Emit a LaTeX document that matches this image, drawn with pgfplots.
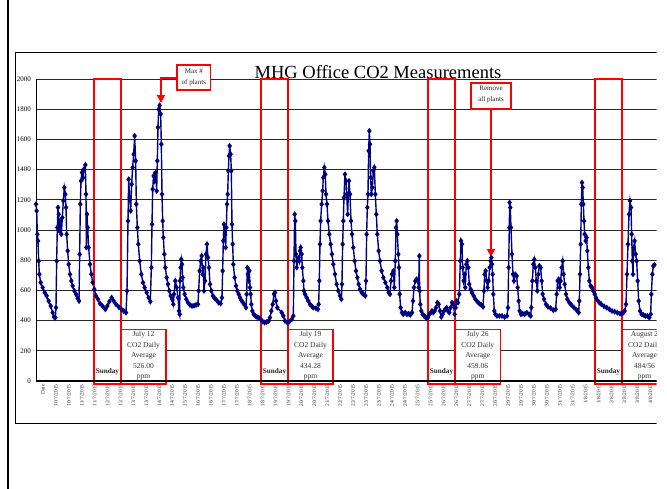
\documentclass[border=0pt]{standalone}
\usepackage{fontspec}
\setmainfont{Liberation Serif}
\usepackage{pgfplots}
\pgfplotsset{compat=1.18}
\usetikzlibrary{arrows.meta}
\definecolor{navy}{HTML}{000080}
\begin{document}
\begin{tikzpicture}[x=1pt,y=1pt]
\useasboundingbox (0,0) rectangle (667,488);
\begin{scope}
\clip (0,0) rectangle (656.5,488);
\draw[line width=2.4pt] (8,-2) -- (8,490);
\draw[line width=1pt] (15,435) rectangle (720,65);
\node[anchor=base, font=\fontsize{18.5}{20}\selectfont] at (378,409.7) {MHG Office CO2 Measurements};
\begin{axis}[
  at={(36pt,107pt)}, anchor=south west,
  scale only axis, width=624pt, height=302pt,
  xmin=9.57, xmax=35.723, ymin=0, ymax=2000,
  clip=false,
  axis lines*=left,
  axis line style={-, black, line width=0.8pt},
  major tick length=0pt,
  ytick={0,200,...,2000},
  ymajorgrids,
  major grid style={black!85, line width=0.8pt},
  /pgf/number format/assume math mode=true,
  /pgf/number format/1000 sep={},
  yticklabel style={font=\fontsize{7}{8}\selectfont, xshift=-1.5pt},
  xtick={9.57,10.1115,...,35.6},
  xticklabels={Date,
    10/7/2015,10/7/2015,11/7/2015,11/7/2015,12/7/2015,12/7/2015,13/7/2015,13/7/2015,14/7/2015,14/7/2015,
    15/7/2015,
    16/7/2015,16/7/2015,17/7/2015,17/7/2015,18/7/2015,18/7/2015,19/7/2015,19/7/2015,20/7/2015,20/7/2015,
    21/7/2015,
    22/7/2015,22/7/2015,23/7/2015,23/7/2015,24/7/2015,24/7/2015,25/7/2015,25/7/2015,26/7/2015,26/7/2015,27/7/2015,27/7/2015,
    28/7/2015,
    29/7/2015,29/7/2015,30/7/2015,30/7/2015,31/7/2015,31/7/2015,1/8/2015,1/8/2015,2/8/2015,2/8/2015,
    3/8/2015,4/8/2015,4/8/2015},
  xticklabel style={font=\fontsize{5.4}{6}\selectfont, rotate=90, anchor=east, yshift=-7pt, text=black!80},
]
\addplot[navy, line width=1.4pt, mark=diamond*, mark size=1.9pt, mark options={solid}] table {
x y
9.570 1171
9.598 1127
9.626 972
9.654 928
9.682 795
9.710 707
9.766 652
9.849 619
9.933 586
10.017 564
10.101 530
10.185 497
10.269 453
10.324 424
10.380 420
10.408 486
10.436 795
10.464 1016
10.492 1149
10.520 1104
10.548 994
10.590 1060
10.632 972
10.674 1082
10.716 1193
10.757 1281
10.799 1237
10.827 1149
10.855 972
10.897 862
10.939 773
10.995 707
11.051 663
11.107 630
11.177 597
11.246 575
11.316 548
11.372 530
11.400 839
11.428 1171
11.456 1325
11.498 1380
11.540 1347
11.582 1403
11.638 1431
11.666 1237
11.679 884
11.707 1104
11.735 1016
11.777 884
11.833 773
11.889 707
11.945 652
12.015 608
12.085 564
12.168 542
12.252 513
12.364 495
12.476 475
12.560 497
12.643 526
12.741 552
12.825 530
12.923 508
13.035 491
13.146 475
13.244 464
13.342 453
13.384 597
13.426 1060
13.454 1336
13.496 1215
13.537 1127
13.579 1303
13.621 1414
13.663 1502
13.705 1623
13.747 1458
13.775 1171
13.817 1016
13.859 906
13.915 795
13.985 707
14.054 652
14.124 619
14.208 586
14.292 552
14.362 526
14.404 751
14.432 1038
14.460 1270
14.501 1358
14.543 1325
14.585 1380
14.627 1259
14.655 1458
14.683 1679
14.711 1800
14.753 1825
14.795 1767
14.823 1568
14.851 1237
14.879 1060
14.907 950
14.948 840
14.990 751
15.046 685
15.102 641
15.158 597
15.214 564
15.270 542
15.326 508
15.354 575
15.409 663
15.465 619
15.521 552
15.563 464
15.591 442
15.605 663
15.633 751
15.661 806
15.689 773
15.717 685
15.745 619
15.801 575
15.870 542
15.940 519
16.024 504
16.108 497
16.192 499
16.276 504
16.359 508
16.387 597
16.429 729
16.471 795
16.513 828
16.555 707
16.583 751
16.611 597
16.653 663
16.695 839
16.737 906
16.779 817
16.820 751
16.862 641
16.918 597
16.988 564
17.058 548
17.142 535
17.225 519
17.309 513
17.365 552
17.393 729
17.421 928
17.449 1038
17.491 972
17.519 884
17.547 1016
17.575 1171
17.603 1237
17.631 1392
17.659 1491
17.687 1557
17.728 1502
17.756 1392
17.784 1038
17.812 906
17.840 773
17.896 685
17.952 630
18.008 597
18.064 575
18.120 552
18.176 535
18.245 519
18.315 504
18.371 486
18.399 575
18.427 751
18.455 707
18.483 663
18.511 729
18.539 619
18.567 575
18.595 508
18.637 464
18.692 442
18.762 431
18.832 424
18.902 420
18.986 409
19.070 394
19.153 387
19.237 391
19.321 398
19.377 420
19.433 464
19.489 508
19.545 575
19.586 586
19.628 530
19.684 486
19.866 453
19.936 431
20.006 398
20.103 387
20.187 393
20.285 409
20.355 431
20.383 795
20.411 1104
20.439 1060
20.467 840
20.495 751
20.536 795
20.578 817
20.606 795
20.634 862
20.662 884
20.704 840
20.732 751
20.774 663
20.802 597
20.844 575
20.914 552
20.983 530
21.053 508
21.123 497
21.193 486
21.305 482
21.389 475
21.417 508
21.444 663
21.472 906
21.500 1060
21.542 1171
21.584 1259
21.612 1347
21.654 1414
21.696 1369
21.724 1237
21.766 1171
21.808 1060
21.864 972
21.919 906
21.975 840
22.031 773
22.101 707
22.171 641
22.241 597
22.311 564
22.367 542
22.394 641
22.422 906
22.450 1060
22.478 1215
22.520 1369
22.562 1325
22.590 1237
22.632 1104
22.660 1237
22.688 1325
22.730 1237
22.772 1060
22.814 972
22.869 884
22.925 795
22.981 729
23.037 685
23.093 641
23.149 608
23.219 586
23.289 575
23.372 564
23.400 663
23.428 972
23.456 1149
23.484 1237
23.512 1524
23.540 1656
23.568 1568
23.596 1347
23.624 1237
23.666 1281
23.708 1392
23.750 1414
23.792 1237
23.833 1104
23.875 972
23.931 862
23.987 795
24.057 729
24.127 685
24.211 652
24.294 619
24.350 586
24.406 575
24.448 663
24.490 707
24.546 729
24.588 619
24.630 795
24.658 1016
24.686 1060
24.713 972
24.755 840
24.783 751
24.811 575
24.853 486
24.909 453
24.965 442
25.049 453
25.119 442
25.188 446
25.258 438
25.328 453
25.370 530
25.412 619
25.468 663
25.524 674
25.566 663
25.608 619
25.635 828
25.649 597
25.677 508
25.719 464
25.775 442
25.831 431
25.887 424
25.943 416
25.999 420
26.055 442
26.110 453
26.166 464
26.222 453
26.278 464
26.334 486
26.390 519
26.446 508
26.502 464
26.557 424
26.613 442
26.669 464
26.725 475
26.781 486
26.837 464
26.893 453
26.949 486
27.005 519
27.060 508
27.116 442
27.158 486
27.200 530
27.256 519
27.312 575
27.354 795
27.382 928
27.424 906
27.452 751
27.493 663
27.535 707
27.563 619
27.605 773
27.647 795
27.689 751
27.731 641
27.787 608
27.843 586
27.913 564
27.982 542
28.066 526
28.150 513
28.234 504
28.304 491
28.346 597
28.374 707
28.415 729
28.457 663
28.499 619
28.541 663
28.583 751
28.625 795
28.653 817
28.681 773
28.709 707
28.737 575
28.779 464
28.821 442
28.891 431
28.988 431
29.100 431
29.212 424
29.310 431
29.351 486
29.379 751
29.407 1016
29.421 1182
29.449 1149
29.477 1016
29.519 840
29.561 707
29.603 663
29.659 707
29.715 696
29.757 619
29.799 530
29.840 464
29.896 442
29.966 446
30.050 442
30.135 453
30.233 442
30.302 431
30.330 486
30.372 663
30.414 773
30.456 806
30.498 751
30.540 663
30.582 597
30.624 707
30.666 762
30.722 751
30.763 663
30.805 575
30.861 542
30.945 508
31.029 491
31.141 482
31.252 469
31.350 475
31.392 575
31.434 663
31.476 674
31.518 619
31.560 663
31.602 751
31.644 795
31.685 707
31.727 641
31.783 575
31.839 542
31.923 519
32.007 504
32.119 486
32.230 469
32.314 453
32.342 530
32.370 707
32.398 906
32.426 1171
32.454 1314
32.482 1281
32.510 1171
32.538 1060
32.566 972
32.607 928
32.649 950
32.677 862
32.719 751
32.761 663
32.817 630
32.873 619
32.929 597
32.985 575
33.041 552
33.097 535
33.180 519
33.264 508
33.376 495
33.488 486
33.599 475
33.711 464
33.823 459
33.935 453
34.046 446
34.130 446
34.186 453
34.242 464
34.298 508
34.340 707
34.382 906
34.424 1104
34.465 1193
34.507 1149
34.535 972
34.563 795
34.591 707
34.619 884
34.661 928
34.703 840
34.745 795
34.787 663
34.829 530
34.885 464
34.954 442
35.024 438
35.108 431
35.192 431
35.276 420
35.332 442
35.360 575
35.402 707
35.443 762
35.490 770
};
% Sunday boxes
\draw[red, line width=1.1pt] (axis cs:12.000,-20) rectangle (axis cs:13.132,2000);
\draw[red, line width=1.1pt] (axis cs:19.000,-20) rectangle (axis cs:20.132,2000);
\draw[red, line width=1.1pt] (axis cs:25.999,-20) rectangle (axis cs:27.131,2000);
\draw[red, line width=1.1pt] (axis cs:32.998,-20) rectangle (axis cs:34.130,2000);
% average boxes
\draw[red, line width=1.1pt, fill=white] (axis cs:13.132,-20) rectangle (axis cs:15.018,344);
\draw[red, line width=1.1pt, fill=white] (axis cs:20.132,-20) rectangle (axis cs:22.018,344);
\draw[red, line width=1.1pt, fill=white] (axis cs:27.131,-20) rectangle (axis cs:29.040,344);
\draw[red, line width=1.1pt, fill=white] (axis cs:34.130,-20) rectangle (axis cs:36.020,344);
% thick x axis
\draw[line width=2.6pt] (axis cs:9.57,0) -- (axis cs:35.723,0);
\tikzset{avg/.style={font=\fontsize{7.5}{10.6}\selectfont, align=center, text=black!80}}
\node[avg] at (axis cs:14.075,166) {July 12\\CO2 Daily\\Average\\526.00\\ppm};
\node[avg] at (axis cs:21.075,166) {July 19\\CO2 Daily\\Average\\434.28\\ppm};
\node[avg] at (axis cs:28.085,166) {July 26\\CO2 Daily\\Average\\459.06\\ppm};
\node[avg] at (axis cs:35.075,166) {August 2\\CO2 Daily\\Average\\484/56\\ppm};
\tikzset{sun/.style={font=\bfseries\fontsize{7.2}{8}\selectfont, text=black!85}}
\node[sun] at (axis cs:12.566,60) {Sunday};
\node[sun] at (axis cs:19.566,60) {Sunday};
\node[sun] at (axis cs:26.565,60) {Sunday};
\node[sun] at (axis cs:33.564,60) {Sunday};
% callouts
\draw[red, line width=1.5pt, -{Triangle[width=8pt,length=8pt]}] (axis cs:15.479,2007) -| (axis cs:14.809,1841);
\draw[red, line width=1.3pt, fill=white] (axis cs:15.479,1927) rectangle (axis cs:16.892,2093);
\node[font=\fontsize{7}{11.6}\selectfont, align=center, text=black!85] at (axis cs:16.185,2010) {Max \#\\of plants};
\draw[red, line width=1.5pt, -{Triangle[width=8pt,length=8pt]}] (axis cs:28.64,1801) -- (axis cs:28.64,821);
\draw[red, line width=1.3pt, fill=white] (axis cs:27.801,1801) rectangle (axis cs:29.478,1974);
\node[font=\fontsize{7}{11}\selectfont, align=center, text=black!85] at (axis cs:28.64,1897) {Remove\\all plants};
\end{axis}
\end{scope}
\end{tikzpicture}
\end{document}
